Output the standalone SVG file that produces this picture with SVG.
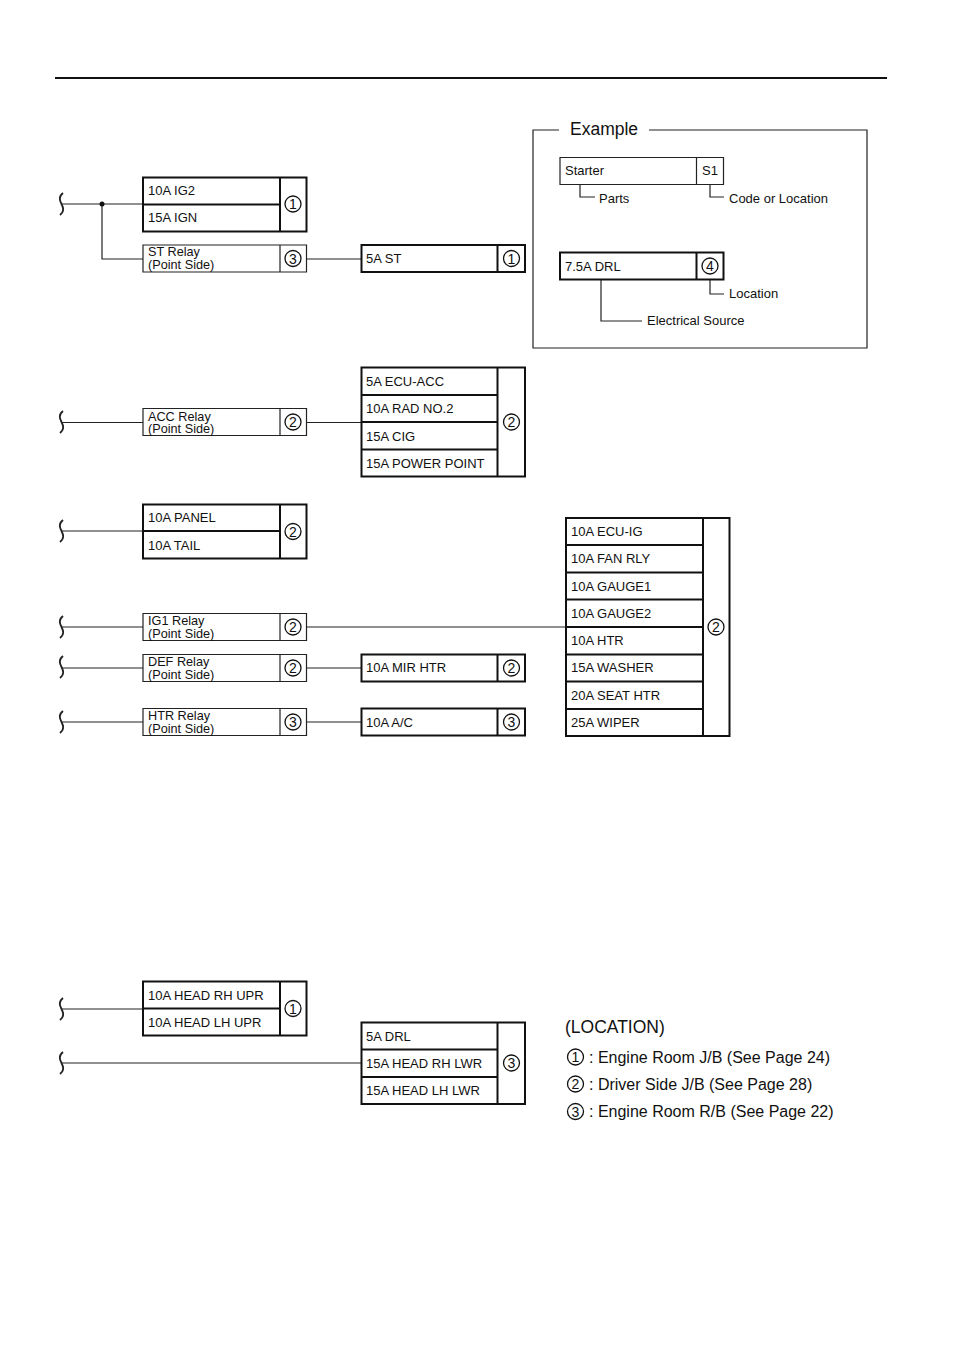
<svg xmlns="http://www.w3.org/2000/svg" width="954" height="1351" viewBox="0 0 954 1351">
<defs>
<style>
text{font-family:"Liberation Sans",Arial,sans-serif;font-size:13px;fill:#111}
.b{fill:none;stroke:#111;stroke-width:2}
.t{fill:none;stroke:#222;stroke-width:1.2}
.w{fill:none;stroke:#222;stroke-width:1.2}
.c{fill:none;stroke:#111;stroke-width:1.3}
.n{text-anchor:middle;font-size:14px}
.l{font-size:16px}
.h{font-size:17.5px}
.r{font-size:12.7px}
</style>
<g id="brk"><path class="w" d="M63 -11C58 -7 60 -3 61.500 0C63 3 65 7 60 11" style="stroke-width:1.800"/></g>
</defs>
<rect width="954" height="1351" fill="#fff"/>
<path d="M55 78H887" stroke="#111" stroke-width="2" fill="none"/>
<g id="connectors">
<use href="#brk" y="204"/><use href="#brk" y="422"/><use href="#brk" y="531"/><use href="#brk" y="627"/><use href="#brk" y="667"/><use href="#brk" y="722"/><use href="#brk" y="1009"/><use href="#brk" y="1063"/>
<path class="w" d="M62 204H143M102 204V259H143M307 259H361M62 422.500H143M307 422.500H361M62 531H143M62 627H143M307 627H566M62 668H143M307 668H361M62 722H143M307 722H361M62 1009H143M62 1063H361"/>
<circle cx="102" cy="204" r="2.500" fill="#111"/>
<path class="w" d="M580 185V197H595M710 185V197H724M601 280V321H642M710 280V294H724"/>
</g>
<g id="n-ig2">
<path class="b" d="M143 177.500H306.500V231.500H143ZM143 204.500H280M280 177.500V231.500"/>
<text x="148" y="195">10A IG2</text><text x="148" y="222">15A IGN</text>
<circle class="c" cx="293" cy="204" r="8"/><text class="n" x="293" y="209">1</text>
</g>
<g id="n-st-relay">
<path class="t" d="M143 245H306.500V272H143ZM280 245V272"/>
<text class="r" x="148" y="256">ST Relay</text><text class="r" x="148" y="269">(Point Side)</text>
<circle class="c" cx="293" cy="258.500" r="8"/><text class="n" x="293" y="263.500">3</text>
</g>
<g id="n-st">
<path class="b" d="M361.500 245H525V272H361.500ZM497.500 245V272"/>
<text x="366" y="263">5A ST</text>
<circle class="c" cx="511.500" cy="258.500" r="8"/><text class="n" x="511.500" y="263.500">1</text>
</g>
<g id="n-example">
<path class="t" d="M559 130H533V348H867V130H649"/>
<text class="h" x="570" y="135">Example</text>
<path class="t" d="M560 157.500H723.500V184.500H560ZM696.500 157.500V184.500"/>
<text x="565" y="175">Starter</text><text x="702" y="175">S1</text>
<text x="599" y="202.500">Parts</text><text x="729" y="202.500">Code or Location</text>
<path class="b" d="M560 252.500H723.500V279.500H560ZM696.500 252.500V279.500"/>
<text x="565" y="271">7.5A DRL</text>
<circle class="c" cx="710" cy="266" r="8"/><text class="n" x="710" y="271">4</text>
<text x="729" y="298">Location</text><text x="647" y="325">Electrical Source</text>
</g>
<g id="n-acc-relay">
<path class="t" d="M143 408.500H306.500V435.500H143ZM280 408.500V435.500"/>
<text class="r" x="148" y="420.500">ACC Relay</text><text class="r" x="148" y="433">(Point Side)</text>
<circle class="c" cx="293" cy="422" r="8"/><text class="n" x="293" y="427">2</text>
</g>
<g id="n-acc">
<path class="b" d="M361.500 367.500H525V476.500H361.500ZM361.500 395H497.500M361.500 422H497.500M361.500 449.500H497.500M497.500 367.500V476.500"/>
<text x="366" y="386">5A ECU-ACC</text><text x="366" y="413">10A RAD NO.2</text><text x="366" y="440.500">15A CIG</text><text x="366" y="468">15A POWER POINT</text>
<circle class="c" cx="511.500" cy="422" r="8"/><text class="n" x="511.500" y="427">2</text>
</g>
<g id="n-panel">
<path class="b" d="M143 504.500H306.500V558.500H143ZM143 531H280M280 504.500V558.500"/>
<text x="148" y="522">10A PANEL</text><text x="148" y="549.500">10A TAIL</text>
<circle class="c" cx="293" cy="531.500" r="8"/><text class="n" x="293" y="536.500">2</text>
</g>
<g id="n-ig1-relay">
<path class="t" d="M143 613.500H306.500V640.500H143ZM280 613.500V640.500"/>
<text class="r" x="148" y="625">IG1 Relay</text><text class="r" x="148" y="638">(Point Side)</text>
<circle class="c" cx="293" cy="627" r="8"/><text class="n" x="293" y="632">2</text>
</g>
<g id="n-def-relay">
<path class="t" d="M143 654.500H306.500V681.500H143ZM280 654.500V681.500"/>
<text class="r" x="148" y="665.500">DEF Relay</text><text class="r" x="148" y="678.500">(Point Side)</text>
<circle class="c" cx="293" cy="668" r="8"/><text class="n" x="293" y="673">2</text>
</g>
<g id="n-htr-relay">
<path class="t" d="M143 708.500H306.500V735.500H143ZM280 708.500V735.500"/>
<text class="r" x="148" y="720">HTR Relay</text><text class="r" x="148" y="733">(Point Side)</text>
<circle class="c" cx="293" cy="722" r="8"/><text class="n" x="293" y="727">3</text>
</g>
<g id="n-mir">
<path class="b" d="M361.500 654.500H525V681.500H361.500ZM497.500 654.500V681.500"/>
<text x="366" y="672">10A MIR HTR</text>
<circle class="c" cx="511.500" cy="668" r="8"/><text class="n" x="511.500" y="673">2</text>
</g>
<g id="n-ac">
<path class="b" d="M361.500 708.500H525V735.500H361.500ZM497.500 708.500V735.500"/>
<text x="366" y="726.500">10A A/C</text>
<circle class="c" cx="511.500" cy="722" r="8"/><text class="n" x="511.500" y="727">3</text>
</g>
<g id="n-ecu">
<path class="b" d="M566 518H729.500V736H566ZM566 545H703M566 572.500H703M566 599.500H703M566 627H703M566 654.500H703M566 681.500H703M566 709H703M703 518V736"/>
<text x="571" y="536">10A ECU-IG</text><text x="571" y="563">10A FAN RLY</text><text x="571" y="590.500">10A GAUGE1</text><text x="571" y="617.500">10A GAUGE2</text><text x="571" y="645">10A HTR</text><text x="571" y="672">15A WASHER</text><text x="571" y="699.500">20A SEAT HTR</text><text x="571" y="727">25A WIPER</text>
<circle class="c" cx="716" cy="627" r="8"/><text class="n" x="716" y="632">2</text>
</g>
<g id="n-head-upr">
<path class="b" d="M143 981.500H306.500V1035.500H143ZM143 1008.500H280M280 981.500V1035.500"/>
<text x="148" y="999.500">10A HEAD RH UPR</text><text x="148" y="1027">10A HEAD LH UPR</text>
<circle class="c" cx="293" cy="1008.500" r="8"/><text class="n" x="293" y="1013.500">1</text>
</g>
<g id="n-head-lwr">
<path class="b" d="M361.500 1022.500H525V1104H361.500ZM361.500 1049.500H497.500M361.500 1077H497.500M497.500 1022.500V1104"/>
<text x="366" y="1040.500">5A DRL</text><text x="366" y="1068">15A HEAD RH LWR</text><text x="366" y="1095">15A HEAD LH LWR</text>
<circle class="c" cx="511.500" cy="1063" r="8"/><text class="n" x="511.500" y="1068">3</text>
</g>
<g id="legend">
<text class="h" x="565" y="1033">(LOCATION)</text>
<circle class="c" cx="575.500" cy="1057" r="8"/><text class="n" x="575.500" y="1062">1</text><text class="l" x="589" y="1063">: Engine Room J/B (See Page 24)</text>
<circle class="c" cx="575.500" cy="1084" r="8"/><text class="n" x="575.500" y="1089">2</text><text class="l" x="589" y="1090">: Driver Side J/B (See Page 28)</text>
<circle class="c" cx="575.500" cy="1111.500" r="8"/><text class="n" x="575.500" y="1116.500">3</text><text class="l" x="589" y="1117">: Engine Room R/B (See Page 22)</text>
</g>
</svg>
